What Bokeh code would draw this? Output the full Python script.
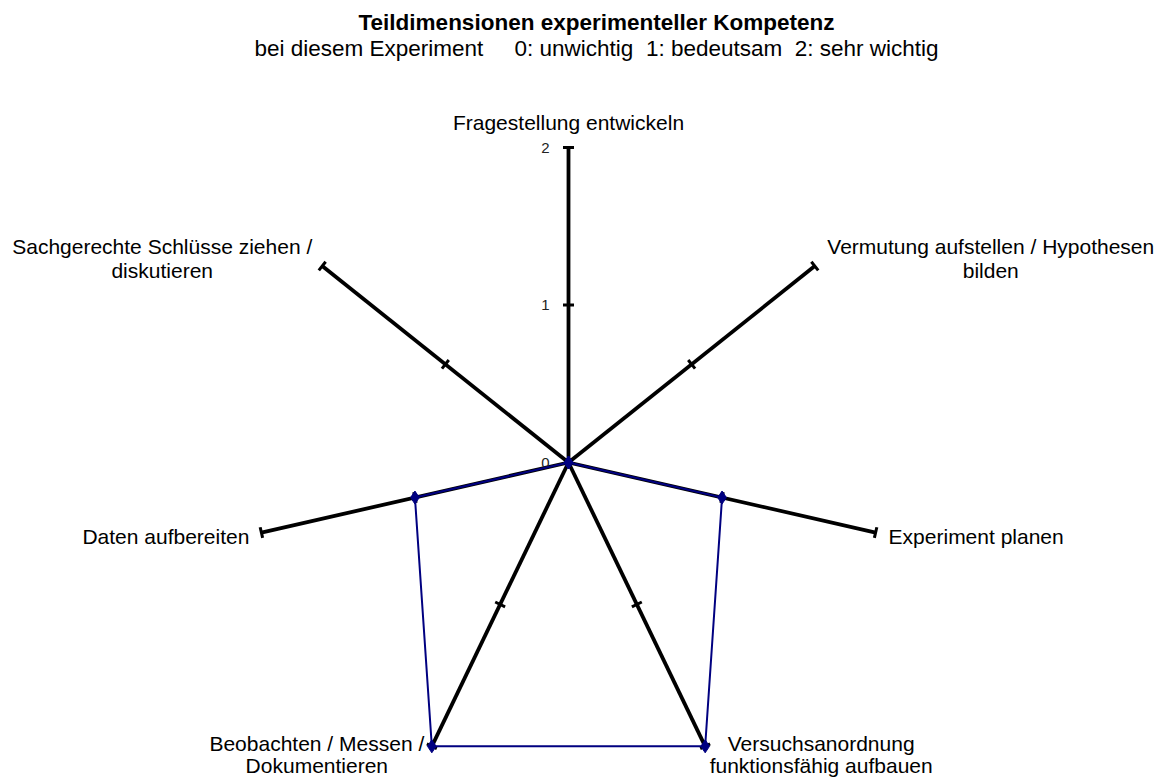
import math
from bokeh.plotting import figure
from bokeh.models import Range1d
from bokeh.core.properties import value
from bokeh.embed import file_html
from bokeh.resources import INLINE

# ---- data ----
categories = [
    "Fragestellung entwickeln",
    "Vermutung aufstellen / Hypothesen\nbilden",
    "Experiment planen",
    "Versuchsanordnung\nfunktionsfähig aufbauen",
    "Beobachten / Messen /\nDokumentieren",
    "Daten aufbereiten",
    "Sachgerechte Schlüsse ziehen /\ndiskutieren",
]
scores = [0, 0, 1, 2, 2, 1, 0]
tick_values = [0, 1, 2]
tick_labels = ["0", "1", "2"]
title_text = "Teildimensionen experimenteller Kompetenz"
NB = "\u00a0"
subtitle_text = ("bei diesem Experiment" + NB * 5 + "0: unwichtig" + NB * 2 +
                 "1: bedeutsam" + NB * 2 + "2: sehr wichtig")

# ---- layout ----
W, H = 1160, 778
SCALE = 157.5          # px per unit
CX, CY = 568, 462      # centre in page pixels
x0 = -CX / SCALE
x1 = x0 + W / SCALE
y1 = CY / SCALE
y0 = y1 - H / SCALE

def px(xp, yp):
    return x0 + xp / SCALE, y1 - yp / SCALE

p = figure(width=W, height=H, output_backend="svg", toolbar_location=None,
           x_range=Range1d(x0, x1), y_range=Range1d(y0, y1), min_border=0)
p.axis.visible = False
p.grid.visible = False
p.outline_line_color = None
p.background_fill_color = "white"

n = len(categories)
angles = [math.pi / 2 - 2 * math.pi * i / n for i in range(n)]
rmax = max(tick_values)

# spokes
p.segment(x0=[0] * n, y0=[0] * n,
          x1=[rmax * math.cos(a) for a in angles],
          y1=[rmax * math.sin(a) for a in angles],
          line_color="black", line_width=3.8)

# ticks
sx0, sy0, sx1, sy1 = [], [], [], []
for a in angles:
    for t in tick_values[1:]:
        half = 5.5 / SCALE
        cx, cy = t * math.cos(a), t * math.sin(a)
        nx, ny = -math.sin(a), math.cos(a)
        sx0.append(cx - half * nx); sy0.append(cy - half * ny)
        sx1.append(cx + half * nx); sy1.append(cy + half * ny)
p.segment(x0=sx0, y0=sy0, x1=sx1, y1=sy1, line_color="black", line_width=3)

# tick labels on top spoke
p.text(x=[0] * len(tick_values), y=tick_values, text=tick_labels,
       x_offset=-19, y_offset=0, text_align="right", text_baseline="middle",
       text_font=value("Liberation Sans"), text_font_size="15px", text_color="#222222")

# data polygon
xs = [s * math.cos(a) for s, a in zip(scores, angles)]
ys = [s * math.sin(a) for s, a in zip(scores, angles)]
p.line(xs + xs[:1], ys + ys[:1], line_color="#000080", line_width=2)
p.scatter(xs, ys, marker="diamond", size=13, fill_color="#000080", line_color="#000080")

# category labels: (x_offset, y_offset, align, line gap) relative to spoke end
label_style = [
    (0, -25, "center", 24),
    (176, -20, "center", 24),
    (13, 4, "left", 24),
    (116, -3, "center", 22),
    (-115, -3, "center", 22),
    (-12, 4, "right", 24),
    (-160, -20, "center", 24),
]
for cat, a, (dx, dy, al, gap) in zip(categories, angles, label_style):
    lines = cat.split("\n")
    for k, ln in enumerate(lines):
        p.text(x=[rmax * math.cos(a)], y=[rmax * math.sin(a)], text=[ln],
               x_offset=dx, y_offset=dy + gap * k, text_align=al, text_baseline="middle",
               text_font=value("Liberation Sans"), text_font_size="21px", text_color="black")

# titles
tx, ty = px(596, 22)
p.text(x=[tx], y=[ty], text=[title_text], text_align="center", text_baseline="middle",
       text_font=value("Liberation Sans"), text_font_size="22.5px", text_font_style="bold",
       text_color="black")
tx, ty = px(596, 48)
p.text(x=[tx], y=[ty], text=[subtitle_text], text_align="center", text_baseline="middle",
       text_font=value("Liberation Sans"), text_font_size="22.5px", text_color="black")

open("out.html", "w").write(file_html(p, INLINE))
